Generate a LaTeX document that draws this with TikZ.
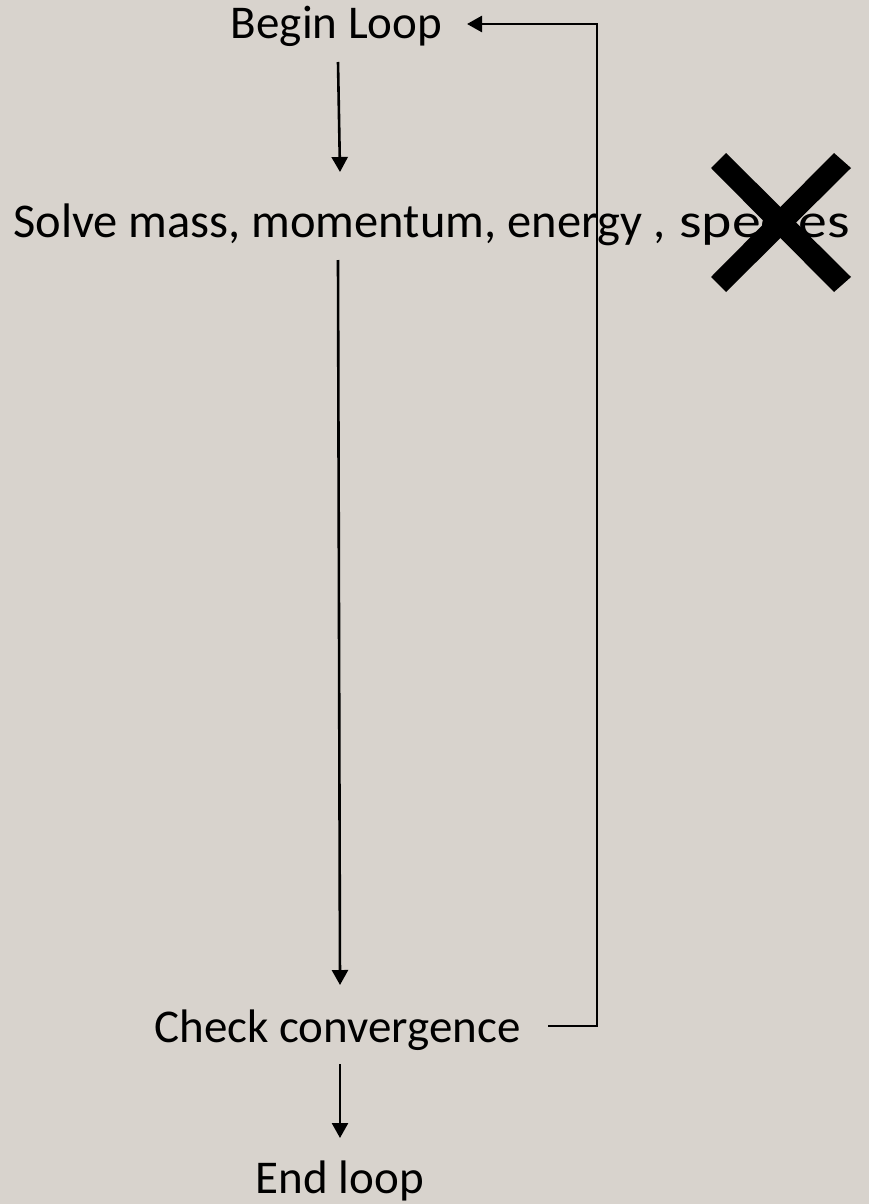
\documentclass[tikz,border=0pt]{standalone}
\usepackage{fontspec}
\usepackage{graphicx}
\setmainfont{Carlito}
\usetikzlibrary{arrows.meta}
\definecolor{bg}{RGB}{216,211,205}
\tikzset{
  lbl/.style={font=\fontsize{47}{56}\selectfont, inner sep=0pt, anchor=base, text=black},
  arr/.style={line width=2.6pt, -{Triangle[length=15pt,width=16pt]}},
  crossmark/.style={fill=black, draw=none}
}
\begin{document}
\begin{tikzpicture}[x=1pt,y=-1pt]
\fill[bg] (0,0) rectangle (869,1204);
\useasboundingbox (0,0) rectangle (869,1204);
\node[lbl] (begin) at (336.5,39) {Begin Loop};
\node[lbl, anchor=base west, font=\fontsize{48.5}{56}\selectfont] (solve) at (13,237)
  {Solve mass, momentum, energy , \hspace{3pt}\scalebox{1.19}[1]{species}};
\node[lbl] (check) at (337.5,1042) {Check convergence};
\node[lbl] (endl) at (340,1193) {End loop};
% connector end points
\coordinate (b1) at (338,62);
\coordinate (s1) at (340,172);
\coordinate (s2) at (338,260);
\coordinate (c1) at (340,985);
\coordinate (c2) at (340,1064);
\coordinate (e1) at (340,1138);
\coordinate (c3) at (548,1026);
\coordinate (r1) at (597,1026);
\coordinate (r2) at (597,24);
\coordinate (b2) at (467,24);
\draw[arr] (b1) -- (s1);
\draw[arr] (s2) -- (c1);
\draw[arr] (c2) -- (e1);
\draw[arr] (c3) -- (r1) -- (r2) -- (b2);
% cross over "species"
\fill[crossmark] (726,153) -- (711,168) -- (834,292) -- (851,277) -- cycle;
\fill[crossmark] (834,153) -- (851,168) -- (726,292) -- (711,277) -- cycle;
\end{tikzpicture}
\end{document}
